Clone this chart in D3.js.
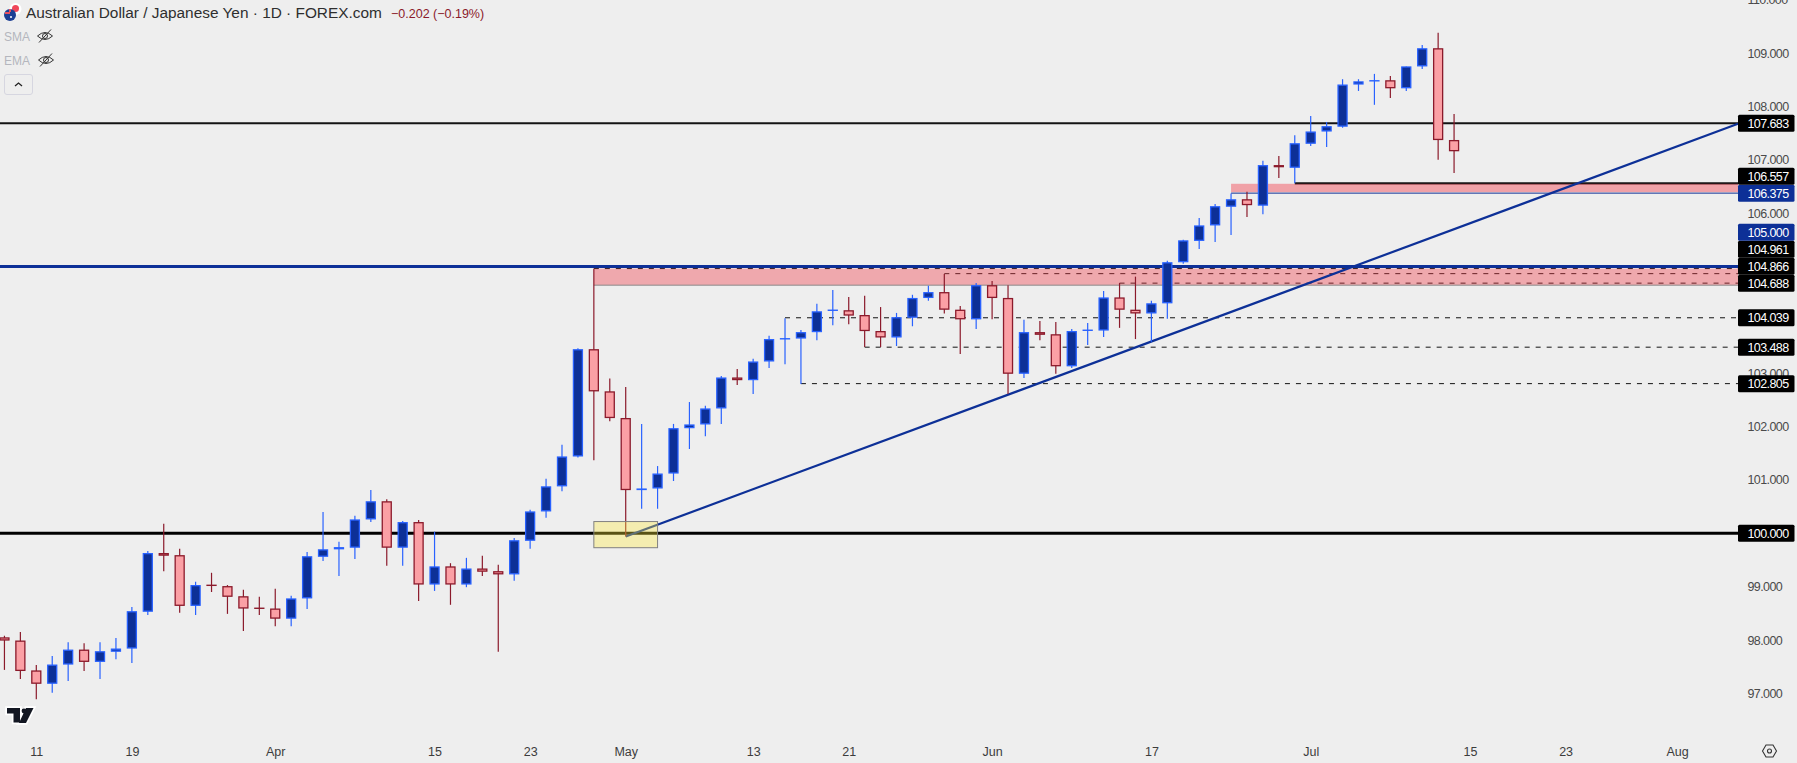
<!DOCTYPE html>
<html>
<head>
<meta charset="utf-8">
<script src="https://d3js.org/d3.v7.min.js"></script>
<style>
  html, body { margin: 0; padding: 0; background: #eeeeee; overflow: hidden; }
  text { font-family: "Liberation Sans", sans-serif; }
  .yaxis text { font-size: 12.5px; fill: #4a4a4a; letter-spacing: -0.6px; }
  .xaxis text { font-size: 12.5px; fill: #3c3c3c; }
</style>
</head>
<body>
<svg id="chart" width="1797" height="763"></svg>
<script>
// weekdays on the time axis, only the first ones have a candle
const dates = [
  '03-07','03-08','03-11','03-12','03-13','03-14','03-15','03-18','03-19','03-20','03-21','03-22','03-25','03-26','03-27','03-28','03-29',
  '04-01','04-02','04-03','04-04','04-05','04-08','04-09','04-10','04-11','04-12','04-15','04-16','04-17','04-18','04-19','04-22','04-23','04-24','04-25','04-26','04-29','04-30',
  '05-01','05-02','05-03','05-06','05-07','05-08','05-09','05-10','05-13','05-14','05-15','05-16','05-17','05-20','05-21','05-22','05-23','05-24','05-27','05-28','05-29','05-30','05-31',
  '06-03','06-04','06-05','06-06','06-07','06-10','06-11','06-12','06-13','06-14','06-17','06-18','06-19','06-20','06-21','06-24','06-25','06-26','06-27','06-28',
  '07-01','07-02','07-03','07-04','07-05','07-08','07-09','07-10','07-11','07-12','07-15','07-16','07-17','07-18','07-19','07-22','07-23','07-24','07-25','07-26','07-29','07-30','07-31',
  '08-01'];

const opens = [98.05,97.99,97.43,97.18,97.54,97.82,97.59,97.78,97.84,98.53,99.63,99.59,98.64,99.03,99.01,98.82,98.60,98.59,98.40,98.78,
  99.56,99.70,99.73,100.26,100.60,99.73,100.21,99.04,99.38,99.04,99.34,99.29,99.23,99.86,100.41,100.88,101.44,103.45,102.66,102.16,
  100.81,100.84,101.12,101.97,102.04,102.34,102.92,102.87,103.22,103.64,103.65,103.77,104.17,104.18,104.09,103.79,103.67,104.04,104.41,104.52,
  104.19,104.01,104.65,104.41,102.99,103.77,103.73,103.13,103.80,103.80,104.42,104.19,104.12,104.31,105.08,105.48,105.77,106.12,106.26,106.14,
  106.90,106.85,107.30,107.53,107.62,108.41,108.47,108.49,108.34,108.75,109.09,107.37];
const highs = [98.08,98.15,97.53,97.70,97.96,97.94,97.96,98.04,98.62,99.67,100.18,99.71,99.09,99.26,99.03,98.94,98.81,98.96,98.83,99.65,
  100.40,99.84,100.33,100.81,100.64,100.23,100.25,100.03,99.44,99.54,99.58,99.41,99.91,100.44,101.02,101.66,103.47,104.96,102.90,102.74,
  102.05,101.26,102.05,102.46,102.39,102.95,103.08,103.27,103.70,104.03,103.81,104.30,104.56,104.43,104.45,104.24,104.13,104.47,104.64,104.86,
  104.26,104.69,104.73,104.65,104.00,103.98,103.96,103.83,103.94,104.54,104.69,104.81,104.36,105.11,105.50,105.91,106.17,106.37,106.40,106.98,
  107.07,107.46,107.82,107.71,108.51,108.51,108.61,108.57,108.75,109.15,109.38,107.86];
const lows = [97.44,97.27,96.89,97.01,97.23,97.42,97.27,97.64,97.57,98.47,99.29,98.51,98.47,98.90,98.49,98.17,98.47,98.26,98.26,98.58,
  99.48,99.20,99.52,100.21,99.39,99.39,98.73,98.92,98.66,98.99,99.20,97.78,99.11,99.71,100.29,100.79,101.42,101.37,102.10,99.94,
  100.46,100.46,100.98,101.58,101.82,102.05,102.78,102.61,103.10,103.17,102.80,103.62,103.90,103.92,103.49,103.49,103.51,103.88,104.36,104.12,
  103.36,103.83,104.01,102.61,102.91,103.62,102.99,103.10,103.53,103.68,103.85,103.64,103.59,104.02,105.05,105.33,105.46,105.59,105.93,105.98,
  106.66,106.56,107.26,107.24,107.60,108.29,108.03,108.16,108.29,108.70,107.00,106.75];
const closes = [97.99,97.42,97.18,97.54,97.82,97.59,97.79,97.84,98.54,99.63,99.58,98.64,99.03,99.02,98.81,98.59,98.59,98.40,98.78,99.57,
  99.70,99.74,100.26,100.60,99.73,100.21,99.04,99.38,99.04,99.34,99.28,99.23,99.87,100.41,100.88,101.44,103.45,102.66,102.16,100.81,
  100.84,101.12,101.97,102.04,102.34,102.92,102.87,103.22,103.64,103.65,103.77,104.16,104.19,104.08,103.79,103.67,104.05,104.41,104.52,104.19,
  104.01,104.65,104.41,102.99,103.77,103.72,103.13,103.79,103.81,104.42,104.19,104.12,104.31,105.08,105.49,105.77,106.13,106.26,106.15,106.90,
  106.86,107.31,107.53,107.63,108.41,108.47,108.49,108.34,108.75,109.09,107.37,107.16];

const priceTicks = [97,98,99,100,101,102,103,104,105,106,107,108,109,110];
const timeTickDates = ['03-11','03-19','04-01','04-15','04-23','05-01','05-13','05-21','06-03','06-17','07-01','07-15','07-23','08-01'];
const timeTickLabels = ['11','19','Apr','15','23','May','13','21','Jun','17','Jul','15','23','Aug'];

// drawn levels
const dashedLevels = [104.961,104.866,104.688,104.039,103.488,102.805];
const dashedStarts = ['04-29','05-29','06-13','05-15','05-22','05-16'];
const priceTags = [107.683,106.557,106.375,105,104.961,104.866,104.688,104.039,103.488,102.805,100];
const blueTags = [106.375,105];
const trendFrom = {date:'05-01', price:99.94};
const trendThrough = {date:'08-01', price:107.25};
const zoneLower = {from:'04-29', top:104.961, bottom:104.65};
const zoneUpper = {from:'06-24', top:106.55, bottom:106.375};
const boxDates = ['04-29','05-03'];
const boxPrices = [100.22,99.73];

const WIDTH = 1797, HEIGHT = 763, paneW = 1738, paneH = 730;
const NAVY = '#0d3097', UP_LINE = '#2962ff', DOWN_FILL = '#fba0a5', DOWN_LINE = '#8b1a2b', BLACK = '#131313';

const svg = d3.select('#chart');

const x = d3.scalePoint().domain(dates).range([4.44, 4.44 + (dates.length - 1) * 15.93]);
const y = d3.scaleLinear().domain([100, 110]).range([533.3, -0.3]);

// price and time axes
const yAxis = d3.axisRight(y).tickValues(priceTicks).tickSize(0).tickPadding(9.5).tickFormat(d3.format('.3f'));
svg.append('g').attr('class', 'yaxis').attr('transform', `translate(${paneW},0)`).call(yAxis)
  .call(g => g.select('.domain').remove());

const xAxis = d3.axisBottom(x).tickValues(timeTickDates).tickSize(0).tickPadding(8)
  .tickFormat(d => timeTickLabels[timeTickDates.indexOf(d)]);
svg.append('g').attr('class', 'xaxis').attr('transform', `translate(0,${paneH + 8.7})`).call(xAxis)
  .call(g => g.select('.domain').remove());

const pane = svg.append('g');

function hline(value, from, color, width, dash) {
  pane.append('line')
    .attr('x1', from ? x(from) : 0).attr('x2', paneW)
    .attr('y1', y(value)).attr('y2', y(value))
    .attr('stroke', color).attr('stroke-width', width)
    .attr('stroke-dasharray', dash || null);
}

// levels first, the zones go over the dashes and the candles over both
dashedLevels.forEach((d, i) => hline(d, dashedStarts[i], BLACK, 1, '5 6'));
hline(100, null, '#000', 3);
hline(107.683, null, BLACK, 2);
hline(106.557, '06-28', BLACK, 2.3);
hline(106.375, '06-24', NAVY, 1);

pane.append('rect').attr('x', x(zoneLower.from)).attr('width', paneW - x(zoneLower.from))
  .attr('y', y(zoneLower.top)).attr('height', y(zoneLower.bottom) - y(zoneLower.top))
  .attr('fill', 'rgba(242,54,69,0.38)');
hline(zoneLower.bottom, zoneLower.from, '#8a8a8a', 1);
pane.append('rect').attr('x', x(zoneUpper.from)).attr('width', paneW - x(zoneUpper.from))
  .attr('y', y(zoneUpper.top)).attr('height', y(zoneUpper.bottom) - y(zoneUpper.top) - 1)
  .attr('fill', 'rgba(242,54,69,0.42)');
hline(105, null, NAVY, 3);

// trend line runs on to the price scale
const tx1 = x(trendFrom.date), ty1 = y(trendFrom.price);
const slope = (y(trendThrough.price) - ty1) / (x(trendThrough.date) - tx1);
pane.append('line').attr('x1', tx1).attr('y1', ty1)
  .attr('x2', paneW).attr('y2', ty1 + slope * (paneW - tx1))
  .attr('stroke', NAVY).attr('stroke-width', 2.2);

// candles, body inset so the outer edge of the border sits on open and close
// a zero height rect draws nothing at all, so dojis keep a sliver
const bodyH = (d, i) => Math.max(0.1, Math.abs(y(d) - y(closes[i])) - 1.2);
const candles = pane.selectAll('.candle').data(opens).enter().append('g').attr('class', 'candle');
candles.append('line')
  .attr('x1', (d, i) => x(dates[i])).attr('x2', (d, i) => x(dates[i]))
  .attr('y1', (d, i) => y(highs[i])).attr('y2', (d, i) => y(lows[i]))
  .attr('stroke', (d, i) => closes[i] >= d ? UP_LINE : DOWN_LINE)
  .attr('stroke-width', 1.2);
candles.append('rect')
  .attr('x', (d, i) => x(dates[i]) - 4.5).attr('width', 9)
  .attr('y', (d, i) => (y(d) + y(closes[i])) / 2 - bodyH(d, i) / 2)
  .attr('height', bodyH)
  .attr('fill', (d, i) => closes[i] >= d ? NAVY : DOWN_FILL)
  .attr('stroke', (d, i) => closes[i] >= d ? UP_LINE : DOWN_LINE)
  .attr('stroke-width', 1.3);

// yellow box sits on top of everything
pane.append('rect')
  .attr('x', x(boxDates[0])).attr('width', x(boxDates[1]) - x(boxDates[0]))
  .attr('y', y(boxPrices[0])).attr('height', y(boxPrices[1]) - y(boxPrices[0]))
  .attr('fill', 'rgba(255,235,59,0.35)').attr('stroke', '#808080').attr('stroke-width', 1);

// price tags stack upwards from the lowest so they never overlap
const tagH = 17;
const tags = svg.append('g');
let prevY = Infinity;
priceTags.slice().sort(d3.ascending).forEach(p => {
  const ty = Math.min(y(p), prevY - tagH);
  prevY = ty;
  const isBlue = blueTags.includes(p);
  tags.append('rect').attr('x', paneW).attr('y', ty - tagH / 2).attr('width', 56.5).attr('height', tagH)
    .attr('rx', 1.5).attr('fill', isBlue ? NAVY : '#000');
  tags.append('text').attr('x', paneW + 9.5).attr('y', ty).attr('dy', '0.36em')
    .attr('fill', '#fff').style('font-size', '12.5px').style('letter-spacing', '-0.6px')
    .text(d3.format('.3f')(p));
});

// header
const head = svg.append('g');
head.append('text').attr('x', 26).attr('y', 18).attr('fill', '#2e2e2e').style('font-size', '15.4px')
  .text('Australian Dollar / Japanese Yen · 1D · FOREX.com');
head.append('text').attr('x', 391).attr('y', 18).attr('fill', '#8b1a2b').style('font-size', '12.5px')
  .text('−0.202 (−0.19%)');
head.append('circle').attr('cx', 15.5).attr('cy', 9).attr('r', 6).attr('fill', '#fff');
head.append('circle').attr('cx', 15.5).attr('cy', 8.5).attr('r', 3.5).attr('fill', '#f0475a');
head.append('circle').attr('cx', 10).attr('cy', 15).attr('r', 6).attr('fill', '#1c3f94');
head.append('path').attr('d', 'M5 12h4v-3h2v3h-1v2h-5z').attr('fill', '#e65060');
head.append('circle').attr('cx', 11).attr('cy', 17).attr('r', 1).attr('fill', '#fff');

[['SMA', 41], ['EMA', 65]].forEach(d => {
  head.append('text').attr('x', 4).attr('y', d[1]).attr('fill', '#b4b6bd').style('font-size', '12px').text(d[0]);
  const ex = d[0] == 'SMA' ? 45 : 46, ey = d[1] - 5;
  head.append('path').attr('d', `M${ex - 7.5} ${ey}Q${ex} ${ey - 7} ${ex + 7.5} ${ey}Q${ex} ${ey + 7} ${ex - 7.5} ${ey}Z`)
    .attr('fill', 'none').attr('stroke', '#333').attr('stroke-width', 1);
  head.append('circle').attr('cx', ex).attr('cy', ey).attr('r', 2.5).attr('fill', 'none').attr('stroke', '#333');
  head.append('line').attr('x1', ex - 6).attr('y1', ey + 6.5).attr('x2', ex + 6).attr('y2', ey - 6.5)
    .attr('stroke', '#333').attr('stroke-width', 1);
});
head.append('rect').attr('x', 4.5).attr('y', 74.5).attr('width', 28).attr('height', 20).attr('rx', 2.5)
  .attr('fill', 'none').attr('stroke', '#d6d6e0');
head.append('path').attr('d', 'M15 86l3.5-3 3.5 3').attr('fill', 'none').attr('stroke', '#222').attr('stroke-width', 1.3);

// tradingview mark with its white outline
const logo = svg.append('g').attr('transform', 'translate(5,706)');
logo.append('path').attr('d', 'M2 2h13v14.5h-6.5v-9h-6.5zM21 2h7.5l-7.5 15h-7z')
  .attr('fill', '#131722').attr('stroke', '#fff').attr('stroke-width', 3.5)
  .style('paint-order', 'stroke');
logo.append('circle').attr('cx', 19).attr('cy', 5).attr('r', 2.4).attr('fill', '#131722');

// settings hexagon, bottom right
const gear = svg.append('g').attr('transform', 'translate(1769.5,751)');
gear.append('path').attr('d', 'M-7 0L-3.5 -6H3.5L7 0L3.5 6H-3.5Z').attr('fill', 'none').attr('stroke', '#333').attr('stroke-width', 1.1);
gear.append('circle').attr('r', 2).attr('fill', 'none').attr('stroke', '#333').attr('stroke-width', 1.1);
</script>
</body>
</html>
